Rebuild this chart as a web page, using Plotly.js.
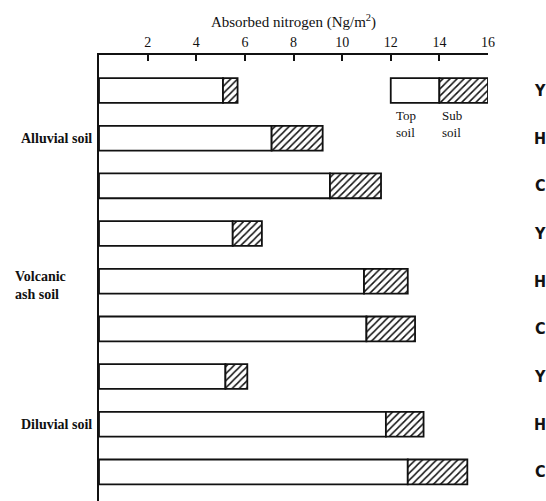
<!DOCTYPE html>
<html>
<head>
<meta charset="utf-8">
<script src="https://cdn.plot.ly/plotly-3.0.1.min.js"></script>
<style>html,body{margin:0;padding:0;background:#fff;}</style>
</head>
<body>
<div id="chart" style="width:546px;height:501px;"></div>
<script>
// Data
const soils = ['Alluvial soil', 'Volcanic<br>ash soil', 'Diluvial soil'];
const treatments = ['Y', 'H', 'C'];
const topSoil = [5.1, 7.1, 9.5, 5.5, 10.9, 11.0, 5.2, 11.8, 12.7];
const subSoil = [0.6, 2.1, 2.1, 1.2, 1.8, 2.0, 0.9, 1.55, 2.45];
const xTicks = [2, 4, 6, 8, 10, 12, 14, 16];
// Key (legend box) drawn in data units
const keyStart = [12];
const keyTop = [2];
const keySub = [2];
const keyLabels = ['Top<br>soil', 'Sub<br>soil'];

const rows = topSoil.map((_, i) => i);
const serif = 'Liberation Serif, Times New Roman, serif';
const narrow = 'DejaVu Sans Condensed, Liberation Sans Narrow, Arial Narrow, sans-serif';
const hatch = {shape: '/', fgcolor: '#111', bgcolor: '#fff', size: 5, solidity: 0.3};
const outline = {color: '#111', width: 1.8};

const traces = [
  {type: 'bar', orientation: 'h', y: rows, x: topSoil, width: 0.52,
   marker: {color: '#fff', line: outline}, hoverinfo: 'x'},
  {type: 'bar', orientation: 'h', y: rows, x: subSoil, base: topSoil, width: 0.52,
   marker: {color: '#fff', line: outline, pattern: hatch}, hoverinfo: 'x'},
  {type: 'bar', orientation: 'h', y: [0], x: keyTop, base: keyStart, width: 0.52,
   marker: {color: '#fff', line: outline}, hoverinfo: 'skip'},
  {type: 'bar', orientation: 'h', y: [0], x: keySub, base: [keyStart[0] + keyTop[0]], width: 0.52,
   marker: {color: '#fff', line: outline, pattern: hatch}, hoverinfo: 'skip'}
];

const annotations = [];
soils.forEach((s, k) => {
  const multi = s.indexOf('<br>') >= 0;
  annotations.push({xref: 'paper', yref: 'y', x: multi ? -0.221 : 0, y: k * 3 + 1,
    xanchor: multi ? 'left' : 'right', xshift: multi ? 0 : -5, yshift: multi ? -4 : 0,
    text: '<b>' + s + '</b>', showarrow: false, align: 'left',
    font: {family: serif, size: 14, color: '#111'}});
});
rows.forEach(i => {
  annotations.push({xref: 'paper', yref: 'y', x: 1.134, y: i, xanchor: 'center',
    text: '<b>' + treatments[i % 3] + '</b>', showarrow: false,
    font: {family: narrow, size: 16, color: '#111'}});
});
annotations.push({xref: 'x', yref: 'y', x: keyStart[0], y: 0, yshift: -33, xanchor: 'left', xshift: 3,
  text: keyLabels[0], showarrow: false, align: 'left', font: {family: serif, size: 13, color: '#111'}});
annotations.push({xref: 'x', yref: 'y', x: keyStart[0] + keyTop[0], y: 0, yshift: -33, xanchor: 'left', xshift: 1,
  text: keyLabels[1], showarrow: false, align: 'left', font: {family: serif, size: 13, color: '#111'}});

const layout = {
  width: 546, height: 501,
  margin: {l: 99, r: 58, t: 55, b: 0, pad: 0},
  paper_bgcolor: '#fff', plot_bgcolor: '#fff',
  barmode: 'overlay',
  showlegend: false,
  xaxis: {
    side: 'top', range: [0, 16], tickvals: xTicks, ticktext: xTicks.map(String),
    ticks: 'inside', ticklen: 6, tickwidth: 2, tickcolor: '#111',
    showline: true, linecolor: '#111', linewidth: 2, showgrid: false, zeroline: false,
    tickfont: {family: serif, size: 14, color: '#111'},
    title: {text: 'Absorbed nitrogen (Ng/m<sup>2</sup>)', font: {family: serif, size: 15, color: '#111'}, standoff: 4}
  },
  yaxis: {
    range: [8.61, -0.745], showticklabels: false, ticks: '',
    showline: true, linecolor: '#111', linewidth: 2, showgrid: false, zeroline: false
  },
  annotations: annotations
};

Plotly.newPlot('chart', traces, layout, {displayModeBar: false, staticPlot: true});
</script>
</body>
</html>
